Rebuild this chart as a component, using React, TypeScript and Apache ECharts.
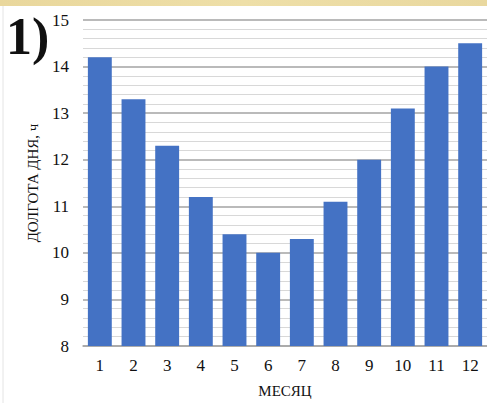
import React, { useEffect, useRef } from "react";
import * as echarts from "echarts";

const months = ["1", "2", "3", "4", "5", "6", "7", "8", "9", "10", "11", "12"];
const dayLength = [14.2, 13.3, 12.3, 11.2, 10.4, 10.0, 10.3, 11.1, 12.0, 13.1, 14.0, 14.5];
const yMin = 8;
const yMax = 15;
const yTitle = "ДОЛГОТА ДНЯ, ч";
const xTitle = "МЕСЯЦ";
const panelLabel = "1)";

const serif = "'Liberation Serif', 'DejaVu Serif', serif";

export default function App() {
  const ref = useRef<HTMLDivElement>(null);
  useEffect(() => {
    if (!ref.current) return;
    const chart = echarts.init(ref.current, null, { renderer: "svg" });
    chart.setOption({
      animation: false,
      backgroundColor: "#ffffff",
      grid: { left: 83, top: 20, width: 407, height: 329, containLabel: false },
      xAxis: {
        type: "category",
        data: months,
        name: xTitle,
        nameLocation: "middle",
        nameGap: 37,
        nameTextStyle: { fontFamily: serif, fontSize: 15, color: "#111" },
        axisLine: { show: true, lineStyle: { color: "#a6a6a6", width: 1.5 } },
        axisTick: { show: false },
        axisLabel: { fontFamily: serif, fontSize: 17, color: "#111", margin: 11 },
      },
      yAxis: {
        type: "value",
        min: yMin,
        max: yMax,
        interval: 1,
        name: yTitle,
        nameLocation: "middle",
        nameGap: 43,
        nameTextStyle: { fontFamily: serif, fontSize: 15, color: "#111" },
        axisLine: { show: false },
        axisTick: { show: false },
        axisLabel: { fontFamily: serif, fontSize: 17, color: "#111", margin: 14 },
        splitLine: { show: true, lineStyle: { color: "#a3a3a3", width: 1.5 } },
        minorTick: { show: false, splitNumber: 5 },
        minorSplitLine: { show: true, lineStyle: { color: "#d8d8d8", width: 1 } },
      },
      series: [
        {
          type: "bar",
          data: dayLength,
          barCategoryGap: "29%",
          itemStyle: { color: "#4472c4" },
        },
      ],
      graphic: [
        {
          type: "rect",
          shape: { x: 0, y: 0, width: 487, height: 6 },
          style: {
            fill: new echarts.graphic.LinearGradient(0, 0, 1, 0, [
              { offset: 0, color: "#e9d79c" },
              { offset: 0.5, color: "#eedfa8" },
              { offset: 1, color: "#e9d89f" },
            ]),
          },
          z: 100,
        },
        {
          type: "line",
          shape: { x1: 3, y1: 6, x2: 3, y2: 403 },
          style: { stroke: "#e4e4e4", lineWidth: 1 },
          z: 100,
        },
        {
          type: "text",
          left: 6,
          top: 10,
          style: {
            text: panelLabel,
            font: `bold 52px ${serif}`,
            fill: "#111",
          },
          z: 100,
        },
      ],
    });
    return () => chart.dispose();
  }, []);
  return (
    <div
      ref={ref}
      style={{ position: "fixed", left: 0, top: 0, width: 487, height: 403 }}
    />
  );
}
